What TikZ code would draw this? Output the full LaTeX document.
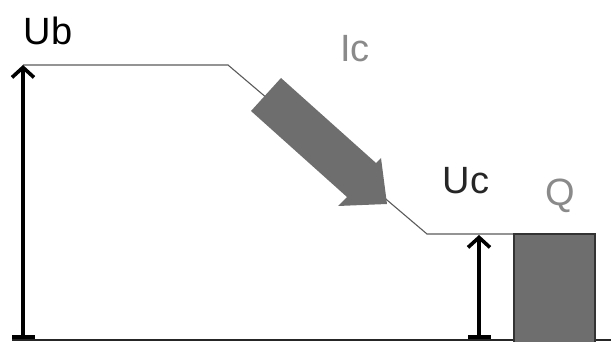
\documentclass[tikz,border=0pt]{standalone}
\usepackage{fontspec}
\setmainfont{Liberation Sans}
\usetikzlibrary{arrows.meta}
\definecolor{fillgray}{HTML}{6E6E6E}
\definecolor{labelgray}{HTML}{8A8A8A}
\definecolor{linegray}{HTML}{5A5A5A}
\begin{document}
\begin{tikzpicture}[x=1pt,y=-1pt,
  label/.style={font=\fontsize{38}{38}\selectfont, inner sep=0pt, anchor=center},
  level/.style={draw=linegray, line width=1.1pt},
  volt/.style={line width=3.6pt, {Bar[width=23pt,line width=3.6pt]}-{Straight Barb[length=10pt,width=22pt,line width=3.6pt]}},
]
\useasboundingbox (0,0) rectangle (611,342);

% profile of the potential
\coordinate (top0) at (23,65);
\coordinate (top1) at (228,65);
\coordinate (low0) at (427,234);
\coordinate (low1) at (514,234);
\coordinate (base0) at (12,340);
\coordinate (base1) at (611,340);
\coordinate (ubfoot) at (23,339);
\coordinate (ucfoot) at (479,339);
\coordinate (uctop) at (479,235);

\draw[level] (top0) -- (top1) -- (low0) -- (low1);
\draw[black!85, line width=1.6pt] (base0) -- (base1);

% voltage arrows
\draw[volt] (ubfoot) -- (top0);
\draw[volt] (ucfoot) -- (uctop);

% current arrow
\fill[fillgray] (251,111) -- (281,78) -- (376,163) -- (381,158) -- (387,204)
  -- (338,206) -- (347,197) -- cycle;

% charge block
\draw[fill=fillgray, draw=black!80, line width=1.6pt] (514,234) rectangle (595,343);

% labels
\node[label, black] (ub) at (48,31) {Ub};
\node[label, labelgray] (ic) at (355,49) {Ic};
\node[label, black!85] (uc) at (466,181) {Uc};
\node[label, labelgray] (q) at (560,196) {Q};
\end{tikzpicture}
\end{document}
